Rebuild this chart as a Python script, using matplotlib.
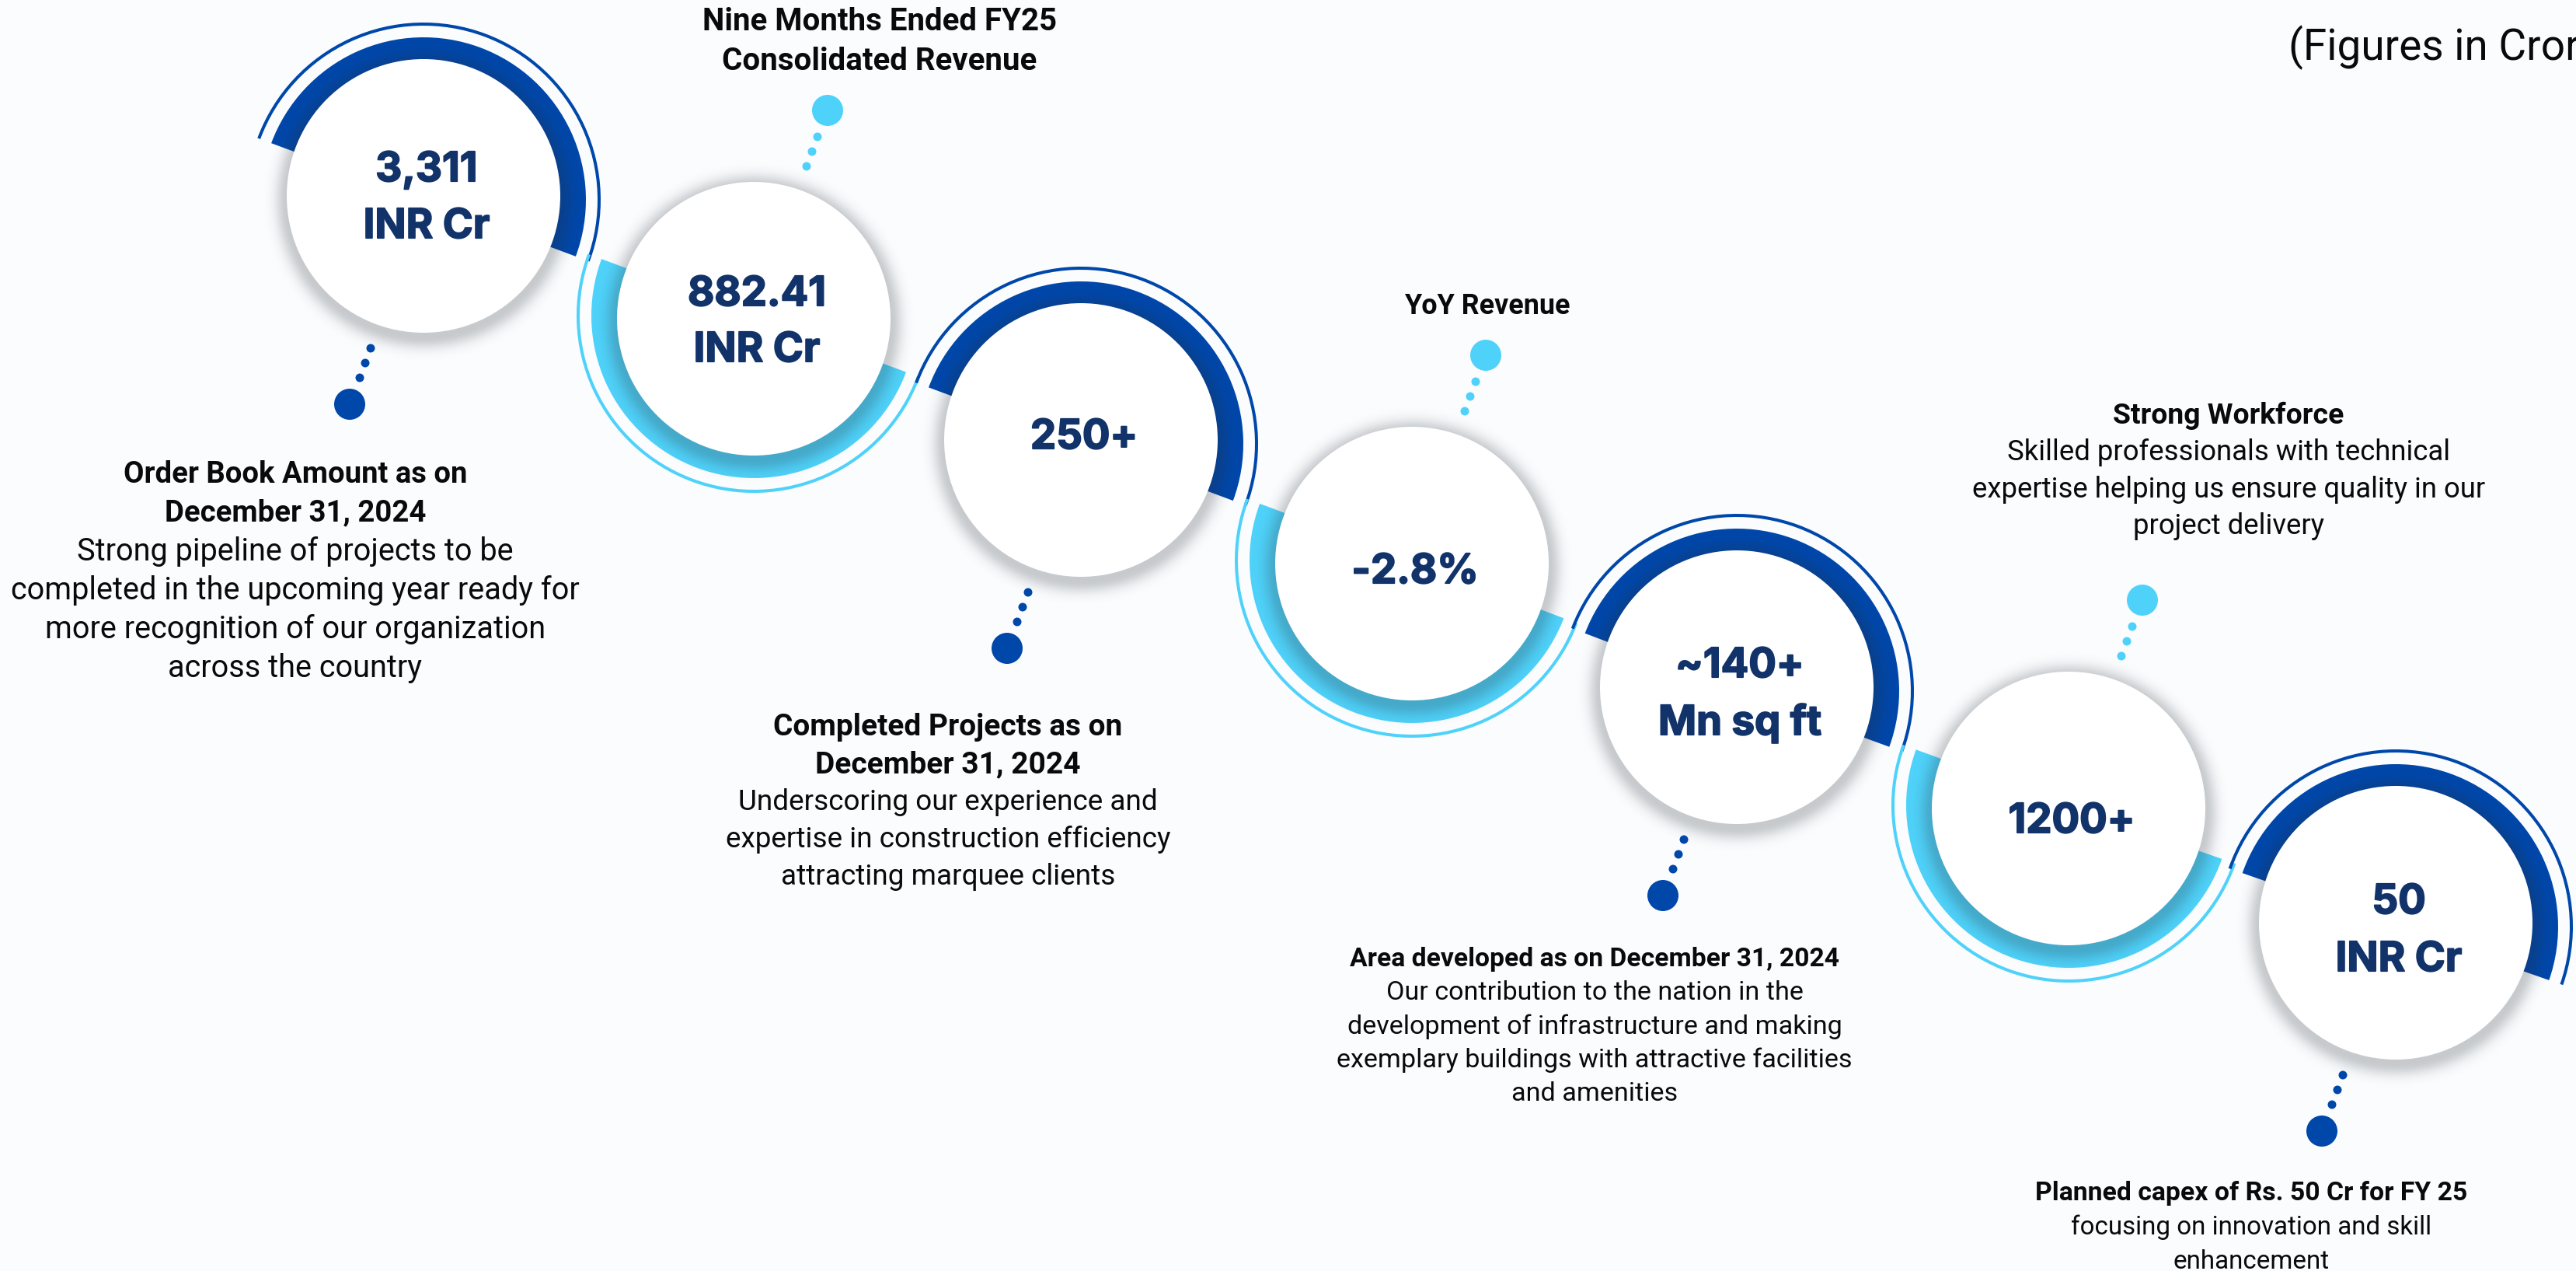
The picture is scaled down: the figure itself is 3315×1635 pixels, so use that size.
import numpy as np
import matplotlib
matplotlib.use("Agg")
import matplotlib.pyplot as plt
import matplotlib.patheffects as pe
from matplotlib.patches import Wedge, Arc, Circle

# ---------------- data ----------------
value_line1 = ["3,311", "882.41", "250+", "-2.8%", "~140+", "1200+", "50"]
value_line2 = ["INR Cr", "INR Cr", "", "", "Mn sq ft", "", "INR Cr"]

label_bold = [
    ["Order Book Amount as on", "December 31, 2024"],
    ["Nine Months Ended FY25", "Consolidated Revenue"],
    ["Completed Projects as on", "December 31, 2024"],
    ["YoY Revenue"],
    ["Area developed as on December 31, 2024"],
    ["Strong Workforce"],
    ["Planned capex of Rs. 50 Cr for FY 25"],
]
label_text = [
    ["Strong pipeline of projects to be",
     "completed in the upcoming year ready for",
     "more recognition of our organization",
     "across the country"],
    [],
    ["Underscoring our experience and",
     "expertise in construction efficiency",
     "attracting marquee clients"],
    [],
    ["Our contribution to the nation in the",
     "development of infrastructure and making",
     "exemplary buildings with attractive facilities",
     "and amenities"],
    ["Skilled professionals with technical",
     "expertise helping us ensure quality in our",
     "project delivery"],
    ["focusing on innovation and skill",
     "enhancement"],
]
note_text = "(Figures in Crore)"

# ---------------- layout (image pixel coords, y down) ----------------
W, H = 3316, 1635
centers = [(545, 252), (970, 410), (1391, 566), (1817, 725),
           (2235, 884), (2662, 1040), (3083, 1187)]
num_y = [[214, 287], [374, 446], [558], [731], [852, 926], [1052], [1156, 1230]]
# label blocks: center x, first-line cap-centre y, line spacing, bold pt, regular pt
blocks = [
    (380, 607, 50.0, 27.5, 28.5),
    (1132, 25, 51.0, 29.0, 29.0),
    (1220, 932, 48.3, 28.0, 26.6),
    (1914, 391, 47.0, 25.8, 25.8),
    (2052, 1231, 43.3, 24.2, 24.6),
    (2868, 532, 47.3, 26.9, 26.3),
    (2897, 1532, 44.3, 24.3, 23.9),
]

BG = "#FAFCFE"
DARK = "#0047AA"
LIGHT = "#4FD2FA"
NAVY = "#11336A"
R_WHITE = 176
R_THICK = 209
THICK_W = 40
R_THIN = 226
LABEL_FONT = ["Roboto", "DejaVu Sans"]
NUM_FONT = ["Inter", "Liberation Sans", "DejaVu Sans"]


def Y(y):
    return H - y


fig = plt.figure(figsize=(W / 100, H / 100), dpi=100)
fig.patch.set_facecolor(BG)
ax = fig.add_axes([0, 0, 1, 1])
ax.set_xlim(0, W)
ax.set_ylim(0, H)
ax.axis("off")
ax.set_facecolor(BG)

n = len(centers)
pts = [(x, Y(y)) for x, y in centers]

# ---------------- arcs ----------------
for i, (cx, cy) in enumerate(pts):
    top = (i % 2 == 0)
    if i < n - 1:
        nx, ny = pts[i + 1]
        a_next = np.degrees(np.arctan2(ny - cy, nx - cx))
    if i > 0:
        px, py = pts[i - 1]
        a_prev = np.degrees(np.arctan2(py - cy, px - cx))
    if i == 0:
        a_prev = a_next + 180
    if i == n - 1:
        a_next = a_prev - 180
    col = DARK if top else LIGHT
    acy = cy - 5 if top else cy + 4
    if top:
        t1, t2 = a_next, a_prev
    else:
        t1, t2 = a_prev, a_next + 360
    ax.add_patch(Wedge((cx, acy), R_THICK, t1, t2, width=THICK_W,
                       facecolor=col, edgecolor="none", zorder=2))
    ax.add_patch(Arc((cx, acy), 2 * R_THIN, 2 * R_THIN, theta1=t1, theta2=t2,
                     color=col, lw=2.9, zorder=2))

# ---------------- soft shadow around white discs ----------------
alpha = np.zeros((H, W), dtype=np.float32)
for (x, y) in centers:
    x0, x1 = max(0, x - 260), min(W, x + 260)
    y0, y1 = max(0, y - 260), min(H, y + 260)
    yy, xx = np.mgrid[y0:y1, x0:x1].astype(np.float32)
    d = np.sqrt((xx - x) ** 2 + (yy - (y + 5)) ** 2) - R_WHITE
    a = 0.24 * np.exp(-(np.clip(d, 0, None) / 15.0) ** 2)
    alpha[y0:y1, x0:x1] = np.maximum(alpha[y0:y1, x0:x1], a)
rgba = np.zeros((H, W, 4), dtype=np.float32)
rgba[..., 0] = 0.15
rgba[..., 1] = 0.17
rgba[..., 2] = 0.2
rgba[..., 3] = alpha
ax.imshow(rgba, extent=(0, W, 0, H), origin="upper", zorder=3,
          interpolation="bilinear", aspect="auto")

# ---------------- white discs + numbers ----------------
for i, (cx, cy) in enumerate(pts):
    ax.add_patch(Circle((cx, cy), R_WHITE, facecolor="white",
                        edgecolor="none", zorder=4))
    lines = [value_line1[i]] + ([value_line2[i]] if value_line2[i] else [])
    for txt, yc in zip(lines, num_y[i]):
        size_pt = 38
        cap = 0.727 * size_pt * 100 / 72
        ax.text(cx + 4, Y(yc + cap / 2), txt, ha="center", va="baseline",
                fontsize=size_pt, fontweight="bold", family=NUM_FONT,
                color=NAVY, zorder=6,
                path_effects=[pe.withStroke(linewidth=1.3, foreground=NAVY)])

# ---------------- connector dots ----------------
small_off = [(-68, 196), (-75, 215), (-82, 234)]
big_off = (-95, 268)
for i, (x, y) in enumerate(centers):
    top = (i % 2 == 0)
    s = 1 if top else -1
    col = DARK if top else LIGHT
    for dx, dy in small_off:
        ax.add_patch(Circle((x + s * dx, Y(y + s * dy)), 5.5,
                            facecolor=col, edgecolor="none", zorder=5))
    ax.add_patch(Circle((x + s * big_off[0], Y(y + s * big_off[1])), 20,
                        facecolor=col, edgecolor="none", zorder=5))

# ---------------- labels ----------------
for i, (bx, by, sp, fb, fr) in enumerate(blocks):
    k = 0
    for txt in label_bold[i]:
        cap = 0.711 * fb * 100 / 72
        ax.text(bx, Y(by + k * sp + cap / 2), txt, ha="center", va="baseline",
                fontsize=fb, fontweight="bold", family=LABEL_FONT,
                color="#0A0A0A", zorder=6)
        k += 1
    for txt in label_text[i]:
        cap = 0.711 * fr * 100 / 72
        ax.text(bx, Y(by + k * sp + cap / 2), txt, ha="center", va="baseline",
                fontsize=fr, family=LABEL_FONT, color="#0A0A0A", zorder=6)
        k += 1

ax.text(2945, Y(77), note_text, ha="left", va="baseline", fontsize=39.5,
        family=LABEL_FONT, color="#0A0A0A", zorder=6)

fig.savefig("out.png", dpi=100, facecolor=BG)
